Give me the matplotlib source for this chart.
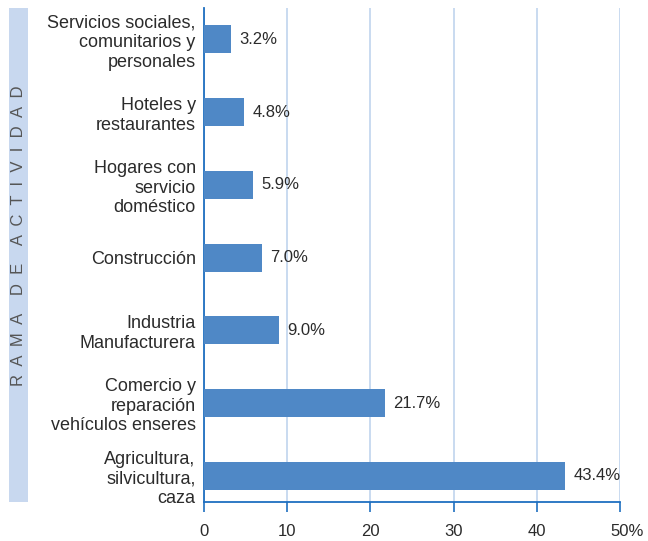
import matplotlib.pyplot as plt
from matplotlib.patches import Rectangle
from matplotlib.transforms import ScaledTranslation

plt.rcParams["font.family"] = ["Liberation Sans", "DejaVu Sans"]

# Ramas de actividad (de abajo hacia arriba) y su participación en %
CATEGORIES = [
    "Agricultura,\nsilvicultura,\ncaza",
    "Comercio y\nreparación\nvehículos enseres",
    "Industria\nManufacturera",
    "Construcción",
    "Hogares con\nservicio\ndoméstico",
    "Hoteles y\nrestaurantes",
    "Servicios sociales,\ncomunitarios y\npersonales",
]
VALUES = [43.4, 21.7, 9.0, 7.0, 5.9, 4.8, 3.2]
XTICKS = [0, 10, 20, 30, 40, 50]
XTICK_LABELS = ["0", "10", "20", "30", "40", "50%"]
AXIS_TITLE = "R  A  M  A    D  E    A  C  T  I  V  I  D  A  D"

BAR_COLOR = "#4f88c6"
AXIS_COLOR = "#1f6fc0"
GRID_COLOR = "#c5d8ef"
TEXT_COLOR = "#2b2b2b"

fig = plt.figure(figsize=(6.48, 5.41), dpi=100)
ax = fig.add_axes([204 / 648, 1 - 502 / 541, 416 / 648, 494 / 541])

pos = range(len(CATEGORIES))
ax.barh(pos, VALUES, height=0.385, color=BAR_COLOR, zorder=3)
for y, v in zip(pos, VALUES):
    ax.text(v + 1.0, y, f"{v:.1f}%", va="center", ha="left",
            fontsize=12, color=TEXT_COLOR)

ax.set_xlim(0, 50)
ax.set_ylim(-0.36, 6.43)
ax.set_xticks(XTICKS)
ax.set_xticklabels(XTICK_LABELS, fontsize=12, color=TEXT_COLOR)
ax.set_yticks(list(pos))
ax.set_yticklabels(CATEGORIES, fontsize=13, color=TEXT_COLOR)
ax.tick_params(axis="y", length=0, pad=6)
ax.tick_params(axis="x", length=7, width=1.2, color=AXIS_COLOR, pad=9)

# el "50" queda centrado en su marca y el "%" cuelga a la derecha
last = ax.get_xticklabels()[-1]
last.set_horizontalalignment("left")
last.set_transform(last.get_transform()
                   + ScaledTranslation(-6.7 / 72, 0, fig.dpi_scale_trans))

ax.grid(axis="x", color=GRID_COLOR, linewidth=1.3, zorder=0)
for side in ("top", "right"):
    ax.spines[side].set_visible(False)
for side in ("left", "bottom"):
    ax.spines[side].set_color(AXIS_COLOR)
    ax.spines[side].set_linewidth(1.3)

# banda lateral con el título del eje
fig.patches.append(Rectangle((9 / 648, 1 - 502 / 541), 19 / 648, 494 / 541,
                             transform=fig.transFigure, facecolor="#c8d8ef",
                             edgecolor="none"))
fig.text(18.5 / 648, 1 - 236 / 541, AXIS_TITLE,
         rotation=90, ha="center", va="center", fontsize=12, color="#555555")

fig.savefig("out.png", dpi=100)
